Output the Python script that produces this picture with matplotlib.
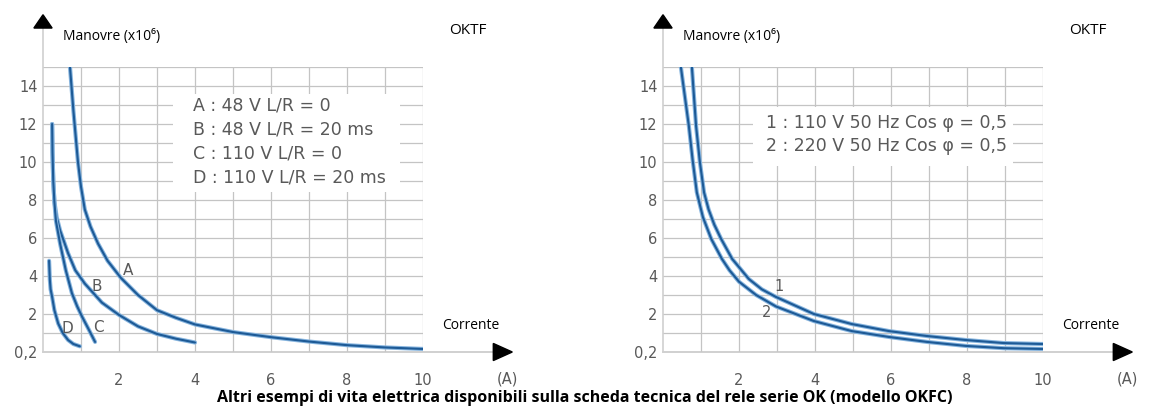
import matplotlib.pyplot as plt
from matplotlib.patches import Rectangle, Polygon

plt.rcParams['font.family'] = ['DejaVu Sans']

# curves, left panel (OKTF, DC)
a_x = [0.71, 0.8, 0.92, 1.0, 1.1, 1.25, 1.45, 1.7, 2.05, 2.5, 3.0, 3.5, 4.0, 5.0, 6.0, 7.0, 8.0, 9.0, 10.0]
a_y = [15.0, 12.7, 10.0, 8.7, 7.5, 6.6, 5.7, 4.8, 3.9, 3.0, 2.2, 1.8, 1.45, 1.05, 0.78, 0.55, 0.36, 0.24, 0.16]
b_x = [0.24, 0.25, 0.27, 0.3, 0.36, 0.45, 0.66, 0.85, 1.1, 1.55, 2.0, 2.5, 3.0, 3.5, 4.0]
b_y = [12.0, 10.5, 9.0, 7.9, 7.1, 6.4, 5.2, 4.3, 3.6, 2.6, 1.95, 1.35, 0.95, 0.7, 0.5]
c_x = [0.24, 0.25, 0.27, 0.3, 0.34, 0.45, 0.6, 0.76, 0.9, 1.03, 1.2, 1.37]
c_y = [12.0, 10.5, 9.0, 7.9, 6.9, 5.7, 4.3, 3.1, 2.4, 1.85, 1.2, 0.53]
d_x = [0.16, 0.18, 0.2, 0.24, 0.3, 0.4, 0.52, 0.66, 0.8, 0.97]
d_y = [4.8, 3.8, 3.3, 2.9, 2.2, 1.5, 1.0, 0.63, 0.42, 0.3]

# curves, right panel (AC)
c1_x = [0.76, 0.87, 0.97, 1.08, 1.2, 1.35, 1.53, 1.82, 2.26, 2.6, 2.97, 3.97, 4.97, 5.95, 6.95, 7.97, 8.97, 10.0]
c1_y = [15.0, 11.9, 10.0, 8.4, 7.5, 6.7, 5.95, 4.9, 3.84, 3.3, 2.9, 2.0, 1.47, 1.1, 0.84, 0.63, 0.47, 0.42]
c2_x = [0.47, 0.68, 0.78, 0.89, 1.05, 1.27, 1.55, 1.75, 2.0, 2.45, 2.97, 3.97, 4.97, 5.95, 6.95, 7.97, 8.97, 10.0]
c2_y = [15.0, 11.9, 10.1, 8.4, 7.1, 5.95, 4.9, 4.3, 3.7, 3.0, 2.4, 1.63, 1.1, 0.79, 0.53, 0.32, 0.2, 0.16]

x_ticks = [2, 4, 6, 8, 10]
y_ticks = [0, 2, 4, 6, 8, 10, 12, 14]
y_labels = ['0,2', '2', '4', '6', '8', '10', '12', '14']

left_legend = ['A : 48 V L/R = 0', 'B : 48 V L/R = 20 ms',
               'C : 110 V L/R = 0', 'D : 110 V L/R = 20 ms']
right_legend = ['1 : 110 V 50 Hz Cos \u03c6 = 0,5', '2 : 220 V 50 Hz Cos \u03c6 = 0,5']

blue = '#1d5a96'
halo = '#86b4de'
grid_c = '#c4c4c4'
txt_c = '#595959'
ui_font = ['Open Sans', 'DejaVu Sans']

W, H = 1151, 407
fig = plt.figure(figsize=(W / 100, H / 100), dpi=100)


def make_axes(x0):
    ax = fig.add_axes([x0 / W, (H - 352) / H, 380 / W, 285 / H])
    ax.set_xlim(0, 10)
    ax.set_ylim(0, 15)
    for s in ax.spines.values():
        s.set_visible(False)
    for i in range(1, 11):
        ax.axvline(i, color=grid_c, lw=0.9, zorder=1)
    for j in range(1, 16):
        ax.axhline(j, color=grid_c, lw=0.9, zorder=1)
    # axes with arrows
    ax.plot([0, 11.85], [0, 0], color='#c8c8c8', lw=1.2, clip_on=False, zorder=1)
    ax.plot([0, 0], [0, 17.05], color='#d0d0d0', lw=1.2, clip_on=False, zorder=1)
    ax.add_patch(Polygon([[11.85, -0.45], [11.85, 0.45], [12.35, 0]], closed=True,
                         color='black', clip_on=False))
    ax.add_patch(Polygon([[-0.24, 17.05], [0.24, 17.05], [0, 17.75]], closed=True,
                         color='black', clip_on=False))
    ax.set_xticks(x_ticks)
    ax.set_xticklabels([str(t) for t in x_ticks])
    ax.set_yticks(y_ticks)
    ax.set_yticklabels(y_labels)
    ax.tick_params(length=0, labelsize=10.5, labelcolor=txt_c)
    ax.tick_params(axis='x', pad=15)
    ax.tick_params(axis='y', pad=4)
    ax.text(0.53, 16.6, 'Manovre (x10\u2076)', fontsize=10, family=ui_font,
            va='center', ha='left', clip_on=False)
    ax.text(10.7, 16.9, 'OKTF', fontsize=11, family=ui_font,
            va='center', ha='left', clip_on=False)
    ax.text(10.5, 1.42, 'Corrente', fontsize=10, family=ui_font,
            va='center', ha='left', clip_on=False)
    ax.text(11.95, -1.4, '(A)', fontsize=10.5, color=txt_c,
            va='center', ha='left', clip_on=False)
    return ax


def curve(ax, xs, ys):
    ax.plot(xs, ys, color=halo, lw=3.0, zorder=4, solid_capstyle='round', solid_joinstyle='round')
    ax.plot(xs, ys, color=blue, lw=1.5, zorder=4, solid_capstyle='round', solid_joinstyle='round')


ax1 = make_axes(43)
ax1.add_patch(Rectangle((3.42, 8.4), 5.98, 5.2, facecolor='white', edgecolor='none', zorder=2))
for k, s in enumerate(left_legend):
    ax1.text(3.95, 12.95 - k * 1.25, s, fontsize=12.5, color=txt_c, va='center', zorder=3)
for xs, ys in [(a_x, a_y), (b_x, b_y), (c_x, c_y), (d_x, d_y)]:
    curve(ax1, xs, ys)
ax1.text(2.25, 4.3, 'A', fontsize=11, color=txt_c, va='center', ha='center', zorder=5)
ax1.text(1.42, 3.45, 'B', fontsize=11, color=txt_c, va='center', ha='center', zorder=5)
ax1.text(1.45, 1.3, 'C', fontsize=11, color=txt_c, va='center', ha='center', zorder=5)
ax1.text(0.63, 1.26, 'D', fontsize=11, color=txt_c, va='center', ha='center', zorder=5)

ax2 = make_axes(663)
ax2.add_patch(Rectangle((2.37, 9.8), 6.85, 3.1, facecolor='white', edgecolor='none', zorder=2))
for k, s in enumerate(right_legend):
    ax2.text(2.71, 12.05 - k * 1.21, s, fontsize=12.5, color=txt_c, va='center', zorder=3)
for xs, ys in [(c1_x, c1_y), (c2_x, c2_y)]:
    curve(ax2, xs, ys)
ax2.text(3.05, 3.45, '1', fontsize=10.5, color=txt_c, va='center', ha='center', zorder=5)
ax2.text(2.72, 2.1, '2', fontsize=10.5, color=txt_c, va='center', ha='center', zorder=5)

fig.text(585 / W, 1 - 398 / H,
         'Altri esempi di vita elettrica disponibili sulla scheda tecnica del rele serie OK (modello OKFC)',
         fontsize=11.5, fontweight='bold', family=ui_font,
         ha='center', va='center')

fig.savefig('out.png', dpi=100, facecolor='white')
